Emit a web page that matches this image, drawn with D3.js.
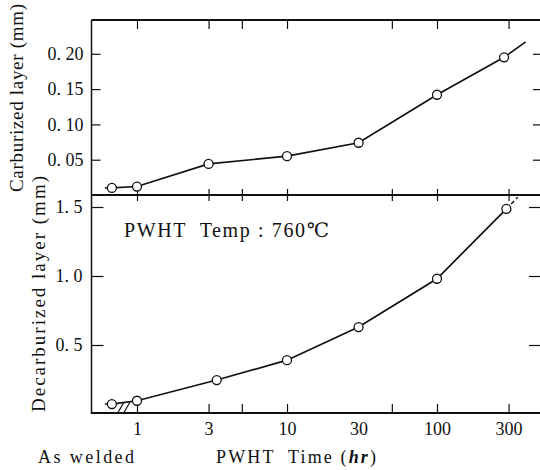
<!DOCTYPE html>
<html>
<head>
<meta charset="utf-8">
<script src="https://cdn.jsdelivr.net/npm/d3@7"></script>
<style>
  body { margin: 0; background: #fff; }
  svg text { font-family: "Liberation Serif", "DejaVu Serif", serif; fill: #111; white-space: pre; }
</style>
</head>
<body>
<div class="canva"></div>
<script>
// data
const asWeldedPos = 0.68;            // where the "As welded" points sit on the log time axis
const topTimes = [1, 3, 10, 30, 100, 280];
const topValues = [0.012, 0.044, 0.055, 0.074, 0.142, 0.195];
const topAsWelded = 0.010;
const topTail = { t: 390, v: 0.217 };

const botTimes = [1, 3.4, 10, 30, 100, 290];
const botValues = [0.096, 0.246, 0.39, 0.63, 0.98, 1.486];
const botAsWelded = 0.072;
const botTail = { t: 345, v: 1.57 };

const timeTicks = [1, 3, 5, 10, 50, 100, 300];
const timeLabels = [1, 3, 10, 30, 100, 300];
const topTicks = [0.05, 0.10, 0.15, 0.20];
const botTicks = [0.5, 1.0, 1.5];

const width = 540, height = 470;
const serif = '"Liberation Serif", "DejaVu Serif", serif';

const svg = d3.select(".canva").append("svg")
    .attr("width", width)
    .attr("height", height);

const left = 91.5, right = 541;
const x = d3.scaleLog().domain([1, 1000]).range([137, 587]);
const yTop = d3.scaleLinear().domain([0, 0.20]).range([195, 53.8]);
const yBot = d3.scaleLinear().domain([0, 1.5]).range([414, 207]);

const topBorder = 20;

// frame lines
svg.append("line").attr("x1", left).attr("x2", right).attr("y1", topBorder).attr("y2", topBorder)
    .attr("stroke", "#111").attr("stroke-width", 2);
svg.append("line").attr("x1", left).attr("x2", right).attr("y1", yTop(0)).attr("y2", yTop(0))
    .attr("stroke", "#111").attr("stroke-width", 2);
svg.append("line").attr("x1", left).attr("x2", right).attr("y1", yBot(0) - 1).attr("y2", yBot(0) - 1)
    .attr("stroke", "#111").attr("stroke-width", 2);
svg.append("line").attr("x1", left).attr("x2", left).attr("y1", topBorder).attr("y2", yBot(0))
    .attr("stroke", "#111").attr("stroke-width", 1.5);

function styleAxis(g) {
  g.attr("font-family", null);
  g.select(".domain").remove();
  g.selectAll(".tick line").attr("stroke", "#111").attr("stroke-width", 1.2);
  g.selectAll(".tick text").style("font-family", serif).style("font-size", "18px")
      .style("white-space", "pre").attr("fill", "#111");
}

// left axes
const fmtY = d => d3.format(".2f")(d).replace(".", ". ");
svg.append("g").attr("transform", `translate(${left},0)`)
    .call(d3.axisLeft(yTop).tickValues(topTicks).tickSize(-9).tickPadding(8).tickFormat(fmtY))
    .call(styleAxis);
svg.append("g").attr("transform", `translate(${left},0)`)
    .call(d3.axisLeft(yBot).tickValues(botTicks).tickSize(-12).tickPadding(9)
      .tickFormat(d => d3.format(".1f")(d).replace(".", ". ")))
    .call(styleAxis);

// right side ticks
svg.append("g").attr("transform", `translate(${right},0)`)
    .call(d3.axisRight(yTop).tickValues(topTicks).tickSize(-8).tickFormat(""))
    .call(styleAxis);
svg.append("g").attr("transform", `translate(${right},0)`)
    .call(d3.axisRight(yBot).tickValues(botTicks).tickSize(-12).tickFormat(""))
    .call(styleAxis);

// time ticks on top border, divider and bottom axis
svg.append("g").attr("transform", `translate(0,${topBorder})`)
    .call(d3.axisTop(x).tickValues(timeTicks).tickSize(-9).tickFormat(""))
    .call(styleAxis);
svg.append("g").attr("transform", `translate(0,${yTop(0) - 6})`)
    .call(d3.axisBottom(x).tickValues(timeTicks).tickSize(12).tickFormat(""))
    .call(styleAxis);
svg.append("g").attr("transform", `translate(0,${yBot(0) - 1})`)
    .call(d3.axisBottom(x).tickValues(timeTicks).tickSize(-9).tickFormat(""))
    .call(styleAxis);
svg.append("g").attr("transform", `translate(0,${yBot(0) - 1})`)
    .call(d3.axisBottom(x).tickValues(timeLabels).tickSize(0).tickPadding(9).tickFormat(d3.format("d")))
    .call(styleAxis);

// axis break
const bx = x(0.82), by = yBot(0) - 1;
[-3, 3].forEach(o => {
  svg.append("line")
      .attr("x1", bx + o - 4).attr("y1", by + 1)
      .attr("x2", bx + o + 3).attr("y2", by - 11)
      .attr("stroke", "#111").attr("stroke-width", 1.2);
});

// series
function drawSeries(times, values, aw, tail, y, dashedTail) {
  const pts = [[asWeldedPos, aw]].concat(times.map((t, i) => [t, values[i]]));
  const ln = d3.line().x(d => x(d[0])).y(d => y(d[1]));
  svg.append("path").datum(pts)
      .attr("d", ln).attr("fill", "none").attr("stroke", "#111").attr("stroke-width", 1.7);
  svg.append("path").datum([pts[pts.length - 1], [tail.t, tail.v]])
      .attr("d", ln).attr("fill", "none").attr("stroke", "#111").attr("stroke-width", 1.5)
      .attr("stroke-dasharray", dashedTail ? "4,3" : null);
  svg.append("line")
      .attr("x1", x(asWeldedPos) - 7).attr("x2", x(asWeldedPos))
      .attr("y1", y(aw)).attr("y2", y(aw))
      .attr("stroke", "#111").attr("stroke-width", 1.5);
  svg.selectAll(null).data(pts).enter().append("circle")
      .attr("cx", d => x(d[0])).attr("cy", d => y(d[1])).attr("r", 4.5)
      .attr("fill", "#fff").attr("stroke", "#111").attr("stroke-width", 1.3);
}

drawSeries(topTimes, topValues, topAsWelded, topTail, yTop, false);
drawSeries(botTimes, botValues, botAsWelded, botTail, yBot, true);

// texts
svg.append("text").attr("x", 124).attr("y", 237)
    .attr("font-size", 20).attr("textLength", 205).attr("lengthAdjust", "spacing")
    .text("PWHT  Temp : 760℃");

svg.append("text").attr("x", 38).attr("y", 463).attr("font-size", 18)
    .attr("textLength", 96).attr("lengthAdjust", "spacing")
    .text("As welded");

const xt = svg.append("text").attr("x", 216).attr("y", 463).attr("font-size", 18)
    .attr("textLength", 160).attr("lengthAdjust", "spacing");
xt.append("tspan").text("PWHT  Time (");
xt.append("tspan").attr("font-style", "italic").attr("font-weight", "bold").text("hr");
xt.append("tspan").text(")");

svg.append("text")
    .attr("transform", "translate(23,192) rotate(-90)")
    .attr("font-size", 19).attr("textLength", 188).attr("lengthAdjust", "spacing")
    .text("Carburized layer (mm)");

svg.append("text")
    .attr("transform", "translate(45,412) rotate(-90)")
    .attr("font-size", 19).attr("textLength", 236).attr("lengthAdjust", "spacing")
    .text("Decarburized layer (mm)");
</script>
</body>
</html>
